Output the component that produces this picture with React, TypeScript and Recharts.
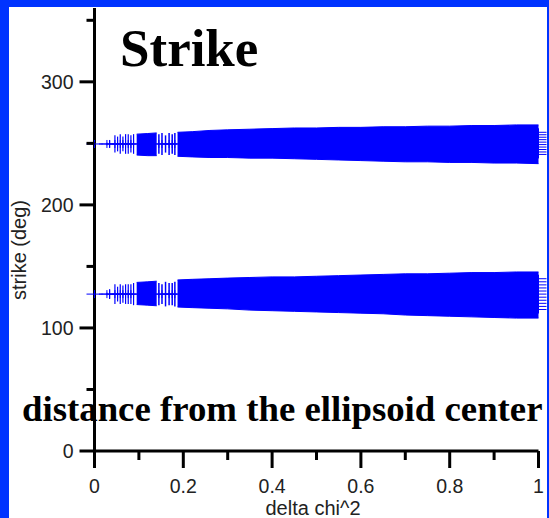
import React from "react";
import {
  Area, ComposedChart, ErrorBar, Scatter, XAxis, YAxis,
} from "recharts";

// axis ticks
const xTicks = [0, 0.1, 0.2, 0.3, 0.4, 0.5, 0.6, 0.7, 0.8, 0.9, 1];
const yTicks = [0, 50, 100, 150, 200, 250, 300, 350];

// dense part of the two strike bands (outer edges)
const bandX = [0.095, 0.12, 0.14, 0.16, 0.187, 0.22, 0.26, 0.3, 0.35, 0.4, 0.45, 0.5, 0.55, 0.6, 0.65, 0.7, 0.75, 0.8, 0.85, 0.9, 0.95, 1.0];
const upperHi = [257.5, 258, 258.5, null, 259, 259.5, 260.5, 261, 261.5, 262, 262.5, 262.5, 263, 263, 263.5, 263.5, 264, 264, 264.5, 264.5, 265, 265];
const upperLo = [240.5, 240, 240, null, 239.5, 239, 238.5, 238.5, 238, 238, 237.5, 237, 236.5, 236, 235.5, 235, 235, 234.5, 234.5, 234, 234, 233.5];
const lowerHi = [137, 137.5, 138, null, 139, 139.5, 140, 140.5, 141, 141.5, 141.5, 142, 142.5, 143, 143.5, 144, 144, 144.5, 145, 145, 145.5, 145.5];
const lowerLo = [119, 118.5, 118, null, 117, 116.5, 116, 115.5, 114.5, 114, 113.5, 113, 112.5, 112, 111.5, 110.5, 110, 109.5, 109, 108.5, 108, 108];

// sparse columns near delta chi^2 = 0
const sparseX = [0, 0.028, 0.034, 0.046, 0.052, 0.058, 0.064, 0.07, 0.076, 0.082, 0.088];
const upperCenter = 249.5;
const lowerCenter = 127.5;
const upperSparseErr = [0, 1, 3, 7, 6, 8, 6, 8, 8, 7, 8];
const lowerSparseErr = [0, 1, 4, 8, 6, 8, 7, 8, 8, 8, 9];

// columns in the gap between the dense blocks
const gapX = [0.145, 0.152, 0.16, 0.168, 0.175, 0.181];
const upperGapErr = [8, 9, 7, 9, 8, 9];
const lowerGapErr = [9, 8, 10, 9, 9, 10];

// markers at delta chi^2 = 1 sticking out past the end
const upperEdgeY = [241, 243, 245, 247, 249, 251, 253, 255, 257, 259];
const lowerEdgeY = [115, 117.5, 120, 122.5, 125, 127.5, 130, 132.5, 135, 137.5, 140];

const DATA_BLUE = "#0000ff";
const BORDER_BLUE = "#0033ff";
const SANS = "'Liberation Sans', Arial, sans-serif";
const SERIF = "'Liberation Serif', 'Times New Roman', serif";

const bandData = bandX.map((x, i) => ({
  x,
  upper: upperHi[i] == null ? null : [upperLo[i], upperHi[i]],
  lower: lowerHi[i] == null ? null : [lowerLo[i], lowerHi[i]],
}));

const cols = (xs: number[], center: number, errs: number[]) =>
  xs.map((x, i) => ({ x, y: center, err: errs[i] }));

const upperSparse = cols(sparseX, upperCenter, upperSparseErr);
const lowerSparse = cols(sparseX, lowerCenter, lowerSparseErr);
const upperGap = cols(gapX, upperCenter, upperGapErr);
const lowerGap = cols(gapX, lowerCenter, lowerGapErr);
const upperEdge = upperEdgeY.map((y) => ({ x: 1, y }));
const lowerEdge = lowerEdgeY.map((y) => ({ x: 1, y }));

function Plus(props: any) {
  const { cx, cy } = props;
  if (cx == null || cy == null) return null;
  return (
    <path
      d={`M${cx - 8},${cy}H${cx + 8}M${cx},${cy - 4}V${cy + 4}`}
      stroke={DATA_BLUE}
      strokeWidth={1}
      fill="none"
    />
  );
}

function YTick({ x, y, payload }: any) {
  const major = payload.value % 100 === 0;
  return (
    <g>
      <line x1={x} x2={x - (major ? 15 : 8)} y1={y} y2={y} stroke="#000" strokeWidth={3} />
      {major && (
        <text x={x - 21} y={y} dy={7} textAnchor="end" fontSize={19.5} fontFamily={SANS} fill="#222">
          {payload.value}
        </text>
      )}
    </g>
  );
}

function XTick({ x, y, payload }: any) {
  const major = Math.round(payload.value * 10) % 2 === 0;
  return (
    <g>
      <line x1={x} x2={x} y1={y} y2={y + (major ? 17 : 9)} stroke="#000" strokeWidth={3} />
      {major && (
        <text x={x} y={y + 42} textAnchor="middle" fontSize={19.5} fontFamily={SANS} fill="#222">
          {String(payload.value)}
        </text>
      )}
    </g>
  );
}

export default function App() {
  return (
    <div style={{ position: "absolute", left: 0, top: 0, width: 549, height: 518, background: BORDER_BLUE, overflow: "hidden" }}>
      <div style={{ position: "absolute", left: 9, top: 7, width: 538, height: 511, background: "#fff", overflow: "hidden" }}>
        <div style={{ position: "absolute", left: -9, top: -7 }}>
          <ComposedChart
            width={549}
            height={518}
            data={bandData}
            margin={{ top: 8, right: 10.5, bottom: 17, left: 34.5 }}
          >
            <XAxis
              type="number"
              dataKey="x"
              domain={[0, 1]}
              ticks={xTicks}
              interval={0}
              height={50}
              tickSize={0}
              tickMargin={0}
              tickLine={false}
              tick={<XTick />}
              axisLine={{ stroke: "#000", strokeWidth: 3 }}
            />
            <YAxis
              type="number"
              dataKey="y"
              domain={[0, 360]}
              ticks={yTicks}
              interval={0}
              width={60}
              tickSize={0}
              tickMargin={0}
              tickLine={false}
              tick={<YTick />}
              axisLine={{ stroke: "#000", strokeWidth: 3 }}
            />
            <Area
              dataKey="upper"
              type="linear"
              stroke={DATA_BLUE}
              strokeWidth={1}
              fill={DATA_BLUE}
              fillOpacity={1}
              dot={false}
              activeDot={false}
              isAnimationActive={false}
            />
            <Area
              dataKey="lower"
              type="linear"
              stroke={DATA_BLUE}
              strokeWidth={1}
              fill={DATA_BLUE}
              fillOpacity={1}
              dot={false}
              activeDot={false}
              isAnimationActive={false}
            />
            {[upperSparse, lowerSparse, upperGap, lowerGap].map((d, i) => (
              <Scatter key={i} data={d} shape={<Plus />} isAnimationActive={false}>
                <ErrorBar
                  dataKey="err"
                  direction="y"
                  width={0}
                  stroke={DATA_BLUE}
                  strokeWidth={i < 2 ? 1.2 : 1.5}
                  isAnimationActive={false}
                />
              </Scatter>
            ))}
            <Scatter data={upperEdge} shape={<Plus />} isAnimationActive={false} />
            <Scatter data={lowerEdge} shape={<Plus />} isAnimationActive={false} />
          </ComposedChart>
          <svg
            width={549}
            height={518}
            style={{ position: "absolute", left: 0, top: 0, pointerEvents: "none" }}
          >
            <text x={120} y={66} fontSize={53} fontWeight="bold" fontFamily={SERIF} fill="#000">
              Strike
            </text>
            <text x={22} y={421} fontSize={36.8} fontWeight="bold" fontFamily={SERIF} fill="#000">
              distance from the ellipsoid center
            </text>
            <text
              x={0}
              y={0}
              transform="translate(26 250) rotate(-90)"
              textAnchor="middle"
              fontSize={20}
              fontFamily={SANS}
              fill="#222"
            >
              strike (deg)
            </text>
            <text x={313} y={515} textAnchor="middle" fontSize={20} fontFamily={SANS} fill="#222">
              delta chi^2
            </text>
          </svg>
        </div>
      </div>
    </div>
  );
}
